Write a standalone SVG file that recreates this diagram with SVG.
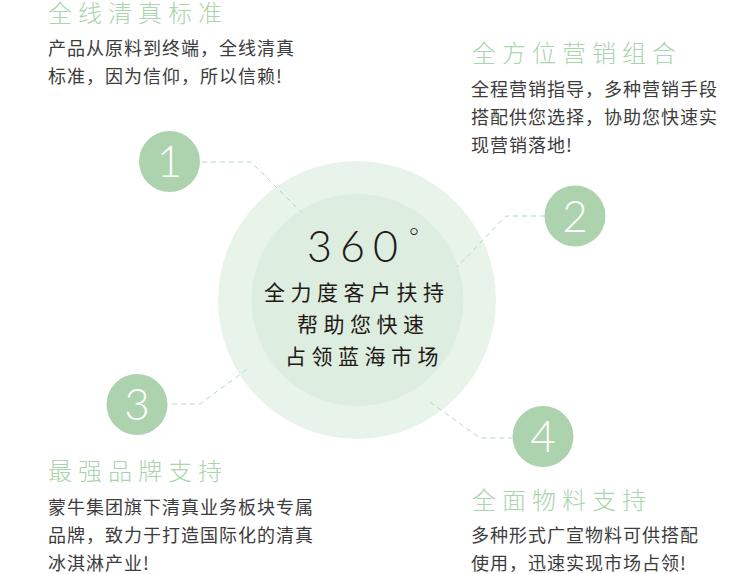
<svg xmlns="http://www.w3.org/2000/svg" width="750" height="574" viewBox="0 0 750 574">
<style>
.title{font-family:"Noto Sans CJK SC","Noto Sans",sans-serif;font-size:24px;font-weight:300;fill:#a9d4ac;letter-spacing:6px}
.body{font-family:"Noto Sans CJK SC","Noto Sans",sans-serif;font-size:18px;font-weight:400;fill:#3c3c3c;letter-spacing:1px}
.num{font-family:"Lato","Open Sans",sans-serif;font-size:44px;font-weight:300;fill:#ffffff;text-anchor:middle}
.dot{fill:#acd3ae}
.center{font-family:"Noto Sans CJK SC","Noto Sans",sans-serif;font-size:21px;font-weight:400;fill:#231815;letter-spacing:5.5px}
.conn{fill:none;stroke:#b3dbb6;stroke-width:1;stroke-dasharray:5 4}
</style>
<rect width="750" height="574" fill="#ffffff"/>
<g id="hub">
<circle cx="357" cy="300" r="139" fill="#e8f3ea"/>
<circle cx="357.5" cy="300" r="106" fill="#ddede0"/>
<text x="307" y="262" style="font-family:'Lato','Open Sans',sans-serif;font-size:43px;font-weight:300;fill:#231815;letter-spacing:8px">360</text>
<text x="409" y="245" style="font-family:'Lato','Open Sans',sans-serif;font-size:24px;font-weight:300;fill:#231815">°</text>
<text class="center" x="264" y="300">全力度客户扶持</text>
<text class="center" x="297" y="332">帮助您快速</text>
<text class="center" x="285" y="364">占领蓝海市场</text>
</g>
<g id="connectors">
<polyline class="conn" points="202,162 251,162 302,213"/>
<polyline class="conn" points="545,216 506,216 457,267"/>
<polyline class="conn" points="172,404 200,404 250,367"/>
<polyline class="conn" points="430,402 480,438 512,438"/>
</g>
<g id="node1">
<circle class="dot" cx="169.5" cy="161.5" r="30.5"/>
<text class="num" x="169.5" y="177">1</text>
<text class="title" x="48" y="22">全线清真标准</text>
<text class="body" x="48" y="55">产品从原料到终端，全线清真</text>
<text class="body" x="48" y="83">标准，因为信仰，所以信赖!</text>
</g>
<g id="node2">
<circle class="dot" cx="575" cy="216" r="30.5"/>
<text class="num" x="575" y="231.5">2</text>
<text class="title" x="472" y="62">全方位营销组合</text>
<text class="body" x="471" y="96">全程营销指导，多种营销手段</text>
<text class="body" x="471" y="124">搭配供您选择，协助您快速实</text>
<text class="body" x="471" y="152">现营销落地!</text>
</g>
<g id="node3">
<circle class="dot" cx="137" cy="404.5" r="30.5"/>
<text class="num" x="137" y="420">3</text>
<text class="title" x="48" y="480">最强品牌支持</text>
<text class="body" x="48" y="514">蒙牛集团旗下清真业务板块专属</text>
<text class="body" x="48" y="542">品牌，致力于打造国际化的清真</text>
<text class="body" x="48" y="570">冰淇淋产业!</text>
</g>
<g id="node4">
<circle class="dot" cx="543" cy="436.5" r="30.5"/>
<text class="num" x="543" y="452">4</text>
<text class="title" x="472" y="509">全面物料支持</text>
<text class="body" x="471" y="542">多种形式广宣物料可供搭配</text>
<text class="body" x="471" y="570">使用，迅速实现市场占领!</text>
</g>
</svg>
